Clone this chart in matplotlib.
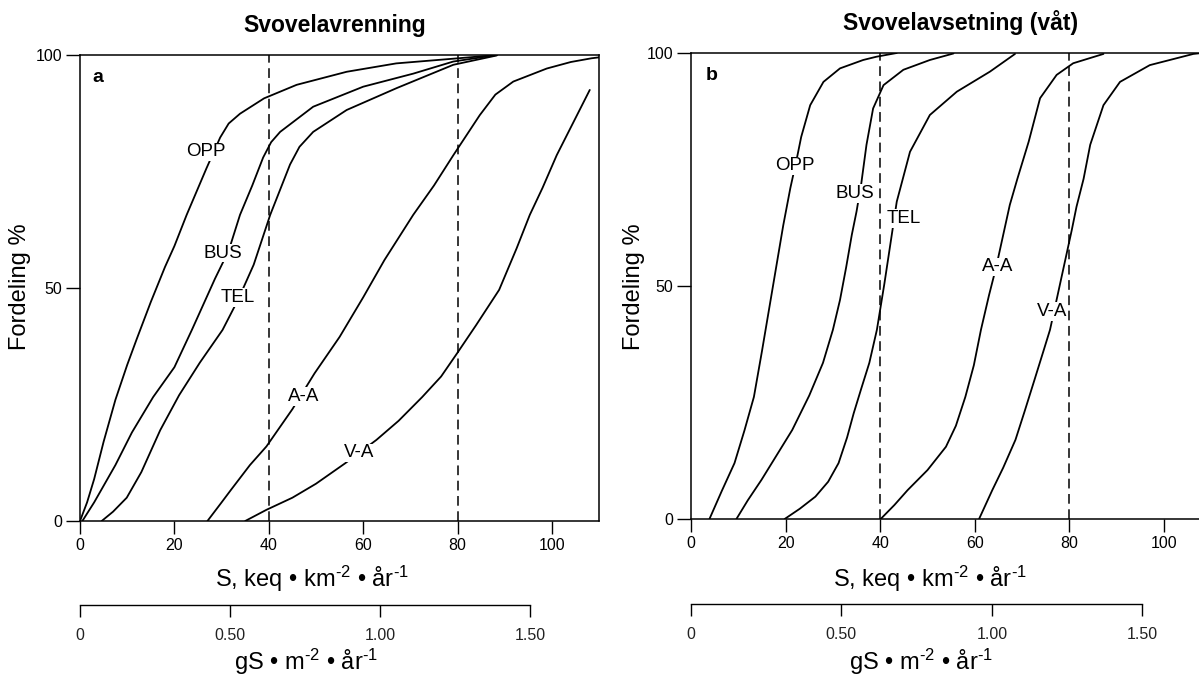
import numpy as np
import matplotlib
matplotlib.use("Agg")
import matplotlib.pyplot as plt

plt.rcParams['font.family'] = ['Liberation Sans', 'DejaVu Sans']
plt.rcParams['mathtext.fontset'] = 'custom'
plt.rcParams['mathtext.rm'] = 'Liberation Sans'
plt.rcParams['mathtext.it'] = 'Liberation Sans:italic'
plt.rcParams['mathtext.bf'] = 'Liberation Sans:bold'
plt.rcParams['lines.scale_dashes'] = False

# ---------------- data ----------------
categories = ["OPP", "BUS", "TEL", "A-A", "V-A"]

# Panel a: Svovelavrenning (S, keq km-2 yr-1 vs cumulative %)
a_opp_x = [0, 1.5, 3, 5, 7.5, 10, 12, 15, 18, 20, 22.6, 26.8, 29.7, 31.5, 33.9, 39,
           45.9, 56.5, 67, 79, 88.3]
a_opp_y = [0, 4, 9, 17, 26, 33.5, 39, 47, 54.5, 59, 65.7, 75.7, 82.3, 85.3, 87.4, 90.7,
           93.6, 96.4, 98.2, 99.2, 100]
a_bus_x = [0.5, 3, 7.5, 11, 15.5, 20, 23.7, 28.6, 31.5, 33.9, 36.5, 38.8, 40.5, 42.4,
           49.4, 60, 70.6, 79.1, 88.3]
a_bus_y = [0, 4, 12, 19, 26.6, 33, 41, 52, 58, 65.7, 72, 78, 81.3, 83.5,
           88.9, 93.2, 96, 98.6, 100]
a_tel_x = [4.6, 7, 9.9, 13, 17, 21, 25.4, 30.2, 33.5, 36.8, 40.3, 44.5, 46.5, 49.4,
           56.5, 67.1, 79.1, 88.3]
a_tel_y = [0, 2, 5, 10.5, 19.5, 27, 34, 41, 47.5, 55, 65.7, 76.5, 80.3, 83.5,
           88.2, 92.9, 97.9, 99.9]
a_aa_x = [27, 30, 32, 36, 39.5, 45, 49.7, 55, 60, 64.5, 70.6, 75, 79.1, 84.7,
          88, 91.8, 98.9, 104, 108.4, 110]
a_aa_y = [0, 4, 6.7, 12, 16, 24, 31.7, 39.5, 48, 56, 65.7, 72, 78.5, 87.1,
          91.5, 94.3, 97.1, 98.5, 99.3, 99.5]
a_va_x = [35, 39.5, 45, 50, 56.2, 62.8, 67.5, 72.5, 76.5, 79.9, 83.9, 88.8,
          92.5, 95.3, 98, 101, 104.5, 108]
a_va_y = [0, 2.4, 5, 8, 12.4, 17.4, 21.5, 26.6, 31, 36, 42, 49.6,
          58.5, 65.7, 71.5, 78.5, 85.5, 92.5]

# Panel b: Svovelavsetning (vaat)
b_opp_x = [3.9, 6.5, 9.2, 11.3, 13.3, 15, 16.5, 18, 19.5, 21, 22.3,
           23.3, 25.2, 28, 31.5, 36.4, 39.2, 43.5]
b_opp_y = [0, 6, 12, 19, 26.2, 36, 45, 54, 63, 71, 77,
           82, 88.8, 93.8, 96.7, 98.5, 99.2, 100]
b_bus_x = [9.6, 12, 14.9, 18, 21.4, 25, 27.9, 30, 31.5, 32.8, 34, 35, 36,
           37.1, 38.5, 40.7, 44.9, 50.5, 55.5]
b_bus_y = [0, 4, 8.4, 13.5, 19.1, 26.5, 33.5, 40.6, 47, 54, 61, 66, 72,
           80.3, 88.1, 93.1, 96.4, 98.5, 99.9]
b_tel_x = [19.8, 23, 26.3, 29, 31.2, 33, 34.4, 36, 37.7, 39.3, 40.9, 42.3,
           43.5, 46.3, 50.5, 56.2, 63.2, 68.5]
b_tel_y = [0, 2.2, 4.8, 8, 12, 17.5, 22.7, 28, 33.5, 40.6, 50.6, 60,
           68.1, 78.8, 86.7, 91.7, 96, 99.8]
b_aa_x = [40.1, 43, 45.8, 50, 53.9, 56, 58, 59.8, 61.3, 63, 64.5, 66.1, 67.4,
          69, 70.2, 71.4, 73.8, 77.3, 80.8, 87.2]
b_aa_y = [0, 3, 6.2, 10.5, 15.5, 20, 26.2, 33, 40.6, 48, 54, 61.4, 67.4,
          73, 77, 81, 90.3, 95.3, 97.8, 99.8]
b_va_x = [60.9, 63.7, 66, 68.6, 70.5, 72.6, 74.5, 75.9, 77.5, 79, 80.5, 81.5,
          83, 84.4, 87.2, 90.7, 97, 106.2, 108]
b_va_y = [0, 6.2, 11, 17, 23, 29.8, 36, 40.6, 48, 55, 62, 67,
          73, 80.3, 88.8, 93.8, 97.4, 99.8, 100]

# label positions (data coords)
a_lab_x = [26.7, 30.2, 33.5, 47.3, 59.1]
a_lab_y = [79.2, 57.5, 48, 26.7, 14.6]
b_lab_x = [22, 34.6, 45, 64.9, 76.3]
b_lab_y = [75.8, 69.9, 64.5, 54.1, 44.5]

x_ticks = [0, 20, 40, 60, 80, 100]
y_ticks = [0, 50, 100]
ref_lines = [40, 80]
g_ticks = [0, 0.5, 1.0, 1.5]
g_labels = ["0", "0.50", "1.00", "1.50"]
keq_per_g = 63.6

titles = ["Svovelavrenning", "Svovelavsetning (våt)"]
panel_letters = ["a", "b"]

# ---------------- figure ----------------
W, H = 1199, 675
fig = plt.figure(figsize=(W / 100, H / 100), dpi=100)

def fx(px):
    return px / W

def fy(py):
    return 1 - py / H

XMAX = 110
panels = [
    dict(left=80, top=55, bottom=521, ppu=4.72,
         curves=[(a_opp_x, a_opp_y), (a_bus_x, a_bus_y), (a_tel_x, a_tel_y),
                 (a_aa_x, a_aa_y), (a_va_x, a_va_y)],
         labx=a_lab_x, laby=a_lab_y,
         title_x=335, title_y=32, letter=(98, 78),
         ylab_x=20, sec_y=605, slab_x=312, glab_x=306),
    dict(left=691, top=53, bottom=519, ppu=4.73,
         curves=[(b_opp_x, b_opp_y), (b_bus_x, b_bus_y), (b_tel_x, b_tel_y),
                 (b_aa_x, b_aa_y), (b_va_x, b_va_y)],
         labx=b_lab_x, laby=b_lab_y,
         title_x=961, title_y=30, letter=(712, 76),
         ylab_x=634, sec_y=604, slab_x=930, glab_x=921),
]

xlab = r"S, keq • km$^{\text{-2}}$ • år$^{\text{-1}}$"
glab = r"gS • m$^{\text{-2}}$ • år$^{\text{-1}}$"

lw_ax = 1.1
for i, p in enumerate(panels):
    width_px = XMAX * p['ppu']
    ax = fig.add_axes([fx(p['left']), fy(p['bottom']), width_px / W,
                       (p['bottom'] - p['top']) / H])
    ax.set_xlim(0, XMAX)
    ax.set_ylim(0, 100)
    for s in ax.spines.values():
        s.set_linewidth(lw_ax)
        s.set_color('black')
    ax.set_xticks(x_ticks)
    ax.set_yticks(y_ticks)
    ax.tick_params(axis='x', direction='out', length=9, width=1.0,
                   labelsize=11.5, pad=3.5)
    ax.tick_params(axis='y', direction='out', length=10, width=1.0,
                   labelsize=11.5, pad=3)
    for xv in ref_lines:
        ax.plot([xv, xv], [0, 100], color='black', lw=1.1,
                linestyle=(0, (7, 4)), clip_on=False)
    for (xs, ys), name, lx, ly in zip(p['curves'], categories, p['labx'], p['laby']):
        ax.plot(xs, ys, color='black', lw=1.3, solid_capstyle='round',
                solid_joinstyle='round')
        ax.text(lx, ly, name, fontsize=13.5, ha='center', va='center',
                zorder=5,
                bbox=dict(facecolor='white', edgecolor='none', pad=0.6))
    # panel letter
    fig.text(fx(p['letter'][0]), fy(p['letter'][1]), panel_letters[i],
             fontsize=14, fontweight='bold', ha='center', va='center')
    # title
    fig.text(fx(p['title_x']), fy(p['title_y']), titles[i], fontsize=16.5,
             fontweight='bold', ha='center', va='baseline')
    # y label
    fig.text(fx(p['ylab_x']), fy(287), "Fordeling %", fontsize=17,
             rotation=90, ha='center', va='center')
    # x label
    fig.text(fx(p['slab_x']), fy(587), xlab,
             fontsize=17, ha='center', va='baseline')
    # secondary gS scale
    ax2 = fig.add_axes([fx(p['left']), fy(p['sec_y']), width_px / W, 0.0001])
    ax2.set_xlim(0, XMAX / keq_per_g)
    ax2.set_ylim(0, 1)
    for k in ['top', 'left', 'right']:
        ax2.spines[k].set_visible(False)
    ax2.spines['bottom'].set_bounds(0, 1.5)
    ax2.spines['bottom'].set_linewidth(1.0)
    ax2.set_yticks([])
    ax2.set_xticks(g_ticks)
    ax2.set_xticklabels(g_labels)
    ax2.tick_params(axis='x', direction='out', length=8.5, width=1.0,
                    labelsize=11.5, pad=8, labelcolor='#222222')
    ax2.patch.set_visible(False)
    fig.text(fx(p['glab_x']), fy(670), glab,
             fontsize=17, ha='center', va='baseline')

fig.savefig("out.png", dpi=100)
